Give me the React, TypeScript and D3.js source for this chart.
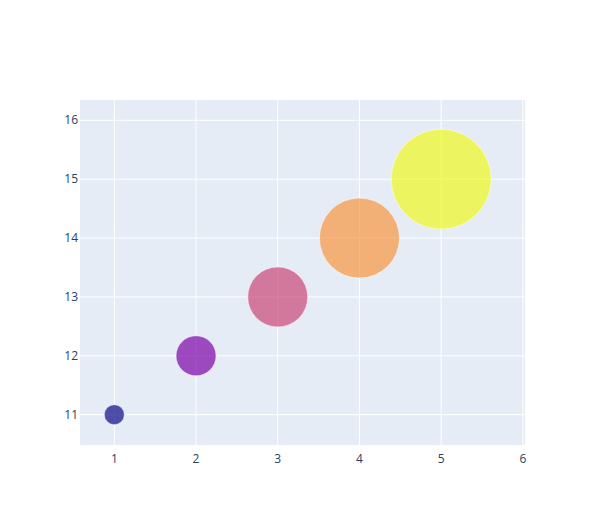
import React from "react";
import * as d3 from "d3";

const xValues = [1, 2, 3, 4, 5];
const yValues = [11, 12, 13, 14, 15];
const sizes = [20, 40, 60, 80, 100];
const colorValues = [0, 1, 2, 3, 4];
const xTicks = [1, 2, 3, 4, 5, 6];
const yTicks = [11, 12, 13, 14, 15, 16];

const W = 605;
const H = 525;
const L = 80, R = 80, T = 100, B = 80;

export default function App() {
  const x = d3.scaleLinear().domain([0.58, 6.026]).range([L, W - R]);
  const y = d3.scaleLinear().domain([10.485, 16.345]).range([H - B, T]);
  const color = d3.scaleSequential(d3.interpolatePlasma).domain([0, 4]);
  const font = "'Open Sans', verdana, arial, sans-serif";
  return (
    <svg width={W} height={H} style={{ position: "absolute", left: 0, top: 0, background: "#fff" }}>
      <rect x={L} y={T} width={W - L - R} height={H - T - B} fill="#e5ecf6" />
      {xTicks.map((t) => (
        <line key={"gx" + t} x1={x(t)} x2={x(t)} y1={T} y2={H - B} stroke="#fff" strokeWidth={1} />
      ))}
      {yTicks.map((t) => (
        <line key={"gy" + t} x1={L} x2={W - R} y1={y(t)} y2={y(t)} stroke="#fff" strokeWidth={1} />
      ))}
      {xValues.map((v, i) => (
        <circle
          key={"c" + i}
          cx={x(v)}
          cy={y(yValues[i])}
          r={sizes[i] / 2}
          fill={color(colorValues[i])}
          fillOpacity={0.7}
          stroke="#fff"
          strokeWidth={0.5}
        />
      ))}
      {xTicks.map((t) => (
        <text key={"tx" + t} x={x(t)} y={H - B + 18} textAnchor="middle" fontFamily={font} fontSize={12} fill="#2a3f5f">
          {t}
        </text>
      ))}
      {yTicks.map((t) => (
        <text key={"ty" + t} x={L - 2} y={y(t) + 4} textAnchor="end" fontFamily={font} fontSize={12} fill="#2a3f5f">
          {t}
        </text>
      ))}
    </svg>
  );
}
